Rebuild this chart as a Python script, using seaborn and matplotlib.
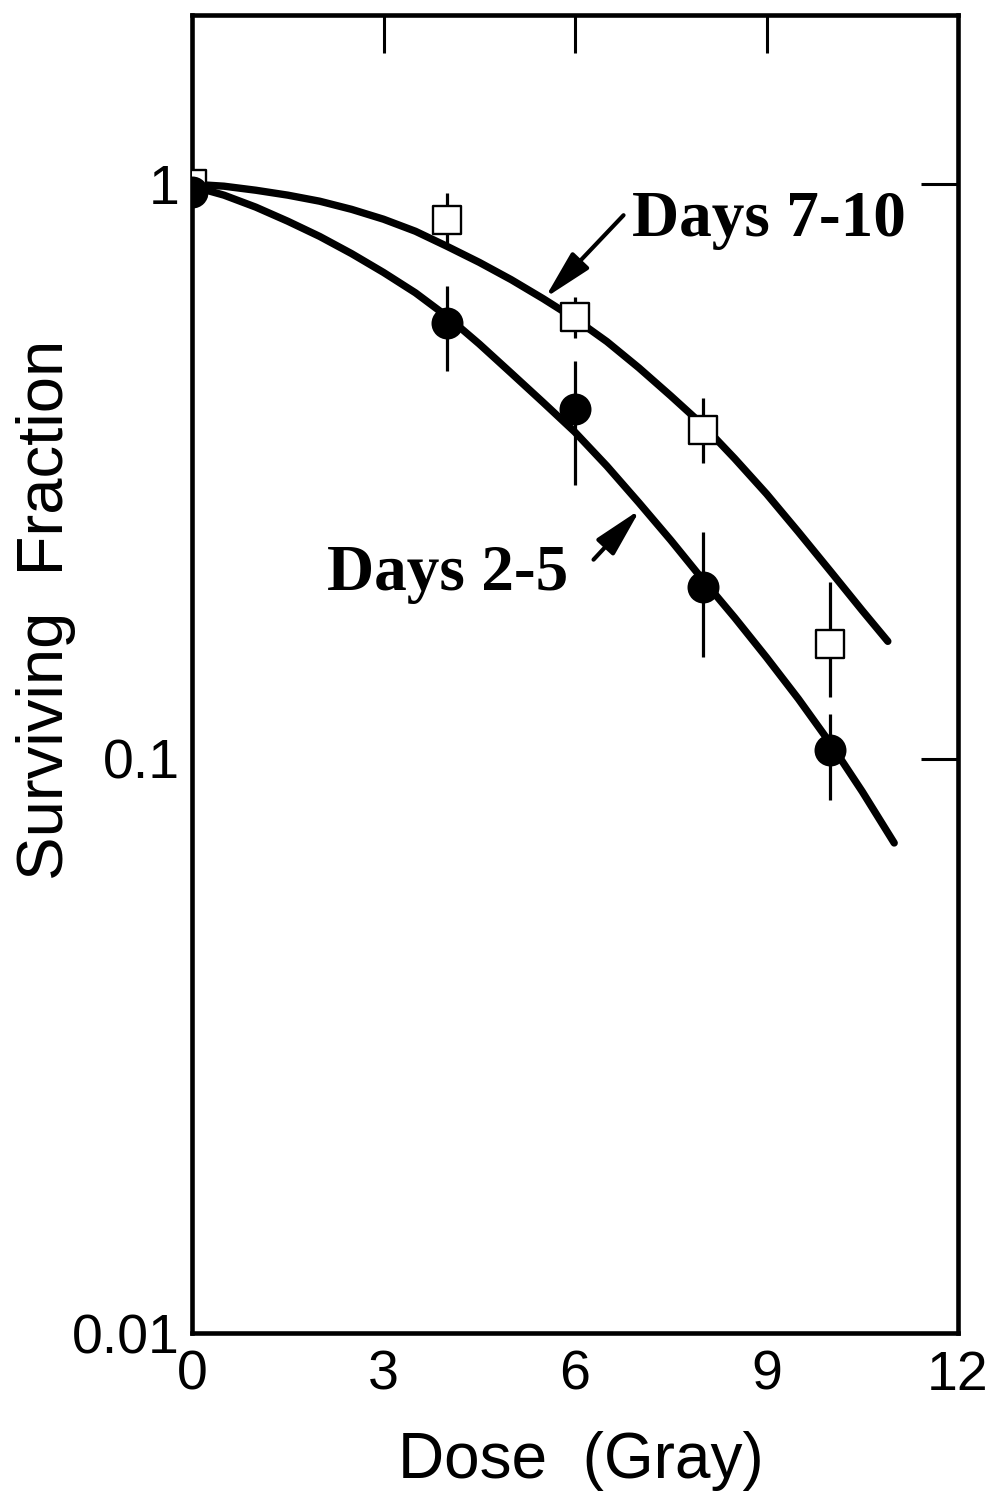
import matplotlib
matplotlib.use("Agg")
import matplotlib.pyplot as plt
from matplotlib import font_manager
from matplotlib.ticker import FixedLocator, FixedFormatter, NullLocator
import seaborn as sns

# ---- data ----
dose_points = [0, 4, 6, 8, 10]

late_sf = [1.0, 0.865, 0.588, 0.374, 0.158]          # Days 7-10 (open squares)
late_err_low = [1.0, 0.789, 0.540, 0.327, 0.128]
late_err_high = [1.0, 0.964, 0.635, 0.424, 0.203]

early_sf = [0.968, 0.574, 0.406, 0.199, 0.1037]      # Days 2-5 (filled circles)
early_err_low = [0.968, 0.473, 0.300, 0.150, 0.0848]
early_err_high = [0.968, 0.666, 0.492, 0.248, 0.1194]

late_curve_dose = [0, 0.5, 1, 1.5, 2, 2.5, 3, 3.5, 4, 4.5, 5, 5.5, 6, 6.5, 7,
                   7.5, 8, 8.5, 9, 9.5, 10, 10.5, 10.9]
late_curve_sf = [1.000, 0.992, 0.976, 0.957, 0.934, 0.904, 0.869, 0.828,
                 0.779, 0.731, 0.682, 0.632, 0.583, 0.532, 0.479, 0.428,
                 0.381, 0.333, 0.289, 0.248, 0.212, 0.181, 0.160]

early_curve_dose = [0, 0.5, 1, 1.5, 2, 2.5, 3, 3.5, 4, 4.5, 5, 5.5, 6, 6.5, 7,
                    7.5, 8, 8.5, 9, 9.5, 10, 10.5, 11]
early_curve_sf = [0.992, 0.957, 0.912, 0.862, 0.811, 0.757, 0.702, 0.647,
                  0.588, 0.527, 0.469, 0.417, 0.370, 0.323, 0.279, 0.240,
                  0.205, 0.176, 0.150, 0.127, 0.1063, 0.0876, 0.0713]

x_ticks = [0, 3, 6, 9, 12]
x_tick_labels = ["0", "3", "6", "9", "12"]
y_ticks = [0.01, 0.1, 1]
y_tick_labels = ["0.01", "0.1", "1"]

# ---- style ----
sns.set_style("white")
names = {f.name for f in font_manager.fontManager.ttflist}
sans = "Liberation Sans"
tick_font = "Liberation Sans Narrow" if "Liberation Sans Narrow" in names else sans
tick_size = 44 if tick_font != sans else 40
plt.rcParams["font.family"] = [sans, "DejaVu Sans"]

fig = plt.figure(figsize=(9.99, 15.03), dpi=100)
ax = fig.add_axes([0.1922, 0.1131, 0.7668, 0.8769])
ax.set_yscale("log")

# error bars
ax.vlines(dose_points, late_err_low, late_err_high, color="black", lw=2.3, zorder=2)
ax.vlines(dose_points, early_err_low, early_err_high, color="black", lw=2.3, zorder=2)

# fitted curves
for cx, cy in [(late_curve_dose, late_curve_sf), (early_curve_dose, early_curve_sf)]:
    sns.lineplot(x=cx, y=cy, ax=ax, color="black", lw=5.3, sort=False, zorder=3,
                 solid_joinstyle="round", solid_capstyle="round")

# markers
sns.scatterplot(x=dose_points, y=late_sf, ax=ax, marker="s", s=380,
                color="white", edgecolor="black", linewidth=1.7, zorder=5)
sns.scatterplot(x=dose_points, y=early_sf, ax=ax, marker="o", s=530,
                color="black", edgecolor="black", linewidth=0, zorder=6)

ax.set_xlim(0, 12)
ax.set_ylim(0.01, 1.97)

ax.xaxis.set_major_locator(FixedLocator(x_ticks))
ax.xaxis.set_major_formatter(FixedFormatter(x_tick_labels))
ax.yaxis.set_major_locator(FixedLocator(y_ticks))
ax.yaxis.set_major_formatter(FixedFormatter(y_tick_labels))
ax.xaxis.set_minor_locator(NullLocator())
ax.yaxis.set_minor_locator(NullLocator())

ax.tick_params(axis="both", which="major", direction="in", length=27, width=2.2,
               top=True, right=True, color="black", labelcolor="black")
ax.tick_params(axis="x", pad=12)
ax.tick_params(axis="y", pad=9)
for lab in ax.get_xticklabels() + ax.get_yticklabels():
    lab.set_fontfamily([tick_font, "DejaVu Sans"])
    lab.set_fontsize(tick_size)

for sp in ax.spines.values():
    sp.set_linewidth(3.3)
    sp.set_color("black")

ax.set_xlabel("Dose  (Gray)", fontsize=46, color="black")
ax.set_ylabel("Surviving  Fraction", fontsize=47, color="black")
ax.xaxis.set_label_coords(0.508, -0.074)
ax.yaxis.set_label_coords(-0.151, 0.549)

serif = ["Liberation Serif", "DejaVu Serif"]
arrow = dict(arrowstyle="-|>,head_length=1.5,head_width=0.36", color="black",
             lw=3, shrinkA=0, shrinkB=0, mutation_scale=20)
ax.annotate("", xy=(5.53, 0.634), xytext=(6.76, 0.883), arrowprops=arrow, zorder=7)
ax.annotate("", xy=(7.02, 0.2714), xytext=(6.29, 0.222), arrowprops=arrow, zorder=7)
ax.text(6.90, 0.814, "Days 7-10", fontsize=47, fontweight="bold", family=serif,
        ha="left", va="baseline", color="black")
ax.text(2.12, 0.1966, "Days 2-5", fontsize=47, fontweight="bold", family=serif,
        ha="left", va="baseline", color="black")

fig.savefig("out.png", dpi=100, facecolor="white")
